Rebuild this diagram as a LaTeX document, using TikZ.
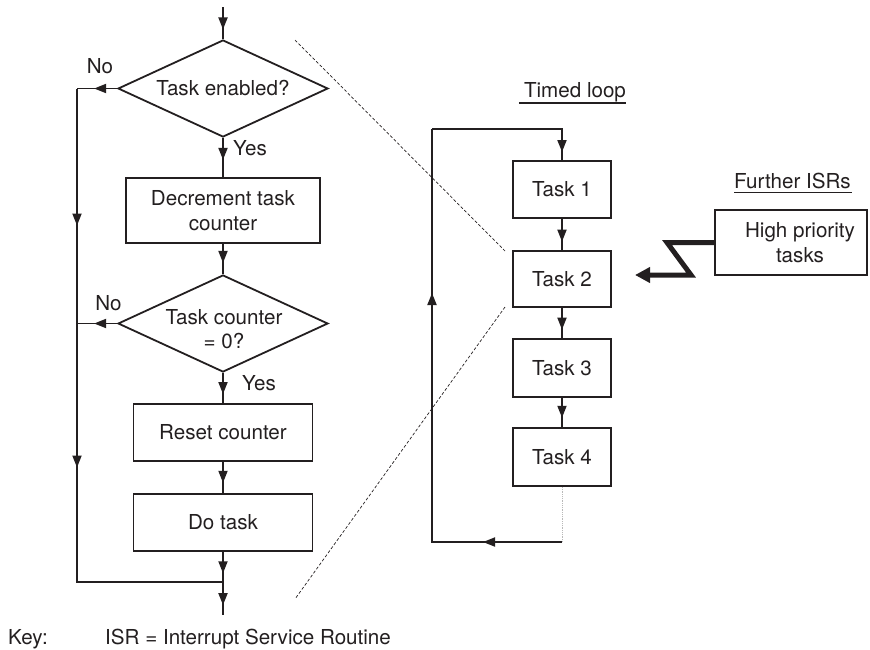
\documentclass[tikz,border=0pt]{standalone}
\usepackage{fontspec}
\setmainfont{TeX Gyre Heros}
\usetikzlibrary{shapes.geometric,arrows.meta,decorations.markings,calc}
\definecolor{ink}{HTML}{231F20}
\begin{document}
\begin{tikzpicture}[x=1pt,y=-1pt,
  every node/.style={font=\fontsize{20.6}{24.5}\selectfont, text=ink},
  box/.style={draw=ink, line width=1.8pt, rectangle, inner sep=0pt, align=center},
  dia/.style={draw=ink, line width=1.8pt, diamond, inner sep=0pt, aspect=2.16, minimum width=210pt, minimum height=97pt},
  ln/.style={draw=ink, line width=1.8pt},
  lbl/.style={inner sep=0pt, anchor=base},
  zoomline/.style={draw=ink, line width=0.7pt, dash pattern=on 3pt off 2pt},
  marr/.style={postaction={decorate}, decoration={markings, mark=at position #1 with {\arrow{Triangle[length=12pt,width=9pt]}}}},
  marrs/.style 2 args={postaction={decorate}, decoration={markings,
      mark=at position #1 with {\arrow{Triangle[length=12pt,width=9pt]}},
      mark=at position #2 with {\arrow{Triangle[length=12pt,width=9pt]}}}},
]
\useasboundingbox (0,0) rectangle (870,649);

% ---------- left flowchart ----------
\coordinate (top) at (223,7);
\node[dia] (d1) at (223,88.5) {Task enabled?};
\node[box, minimum width=194pt, minimum height=65pt] (b1) at (223,210.5) {Decrement task\\counter};
\node[dia] (d2) at (223,323.5) {};
\node[align=center, inner sep=0pt] (d2t) at (224,329) {Task counter\\= 0?};
\node[box, minimum width=179pt, minimum height=57pt] (rc) at (223,432.5) {Reset counter};
\node[box, minimum width=179pt, minimum height=57pt] (dt) at (223,522.5) {Do task};
\coordinate (merge) at (223,582);
\coordinate (bot) at (223,615);
\coordinate (L1) at (77,88.5);
\coordinate (L2) at (77,323.5);
\coordinate (L3) at (77,582);

\draw[ln, marr=0.7] (top) -- (d1.north);
\draw[ln, marr=0.56] (d1.south) -- (b1.north);
\draw[ln, marr=0.63] (b1.south) -- (d2.north);
\draw[ln, marr=0.7] (d2.south) -- (rc.north);
\draw[ln, marr=0.67] (rc.south) -- (dt.north);
\draw[ln, marr=0.71] (dt.south) -- (merge);
\draw[ln, marr=0.7] (merge) -- (bot);
\draw[ln, marr=23pt] (d1.west) -- (L1);
\draw[ln, marrs={137pt}{379pt}] (L1) -- (L3) -- (merge);
\draw[ln, marr=23pt] (d2.west) -- (L2);

\node[lbl] (no1) at (100,73) {No};
\node[lbl] (yes1) at (250,155) {Yes};
\node[lbl] (no2) at (108.5,310) {No};
\node[lbl] (yes2) at (259,390) {Yes};

% ---------- timed loop ----------
\node[lbl] (tl) at (575,97) {Timed loop};
\draw[ln] ($(tl.base west)+(-5,6)$) coordinate (tlu1) -- ($(tl.base east)+(0,6)$) coordinate (tlu2);
\node[box, minimum width=98pt, minimum height=57pt] (t1) at (562,189.5) {Task 1};
\node[box, minimum width=98pt, minimum height=56pt] (t2) at (562,279) {Task 2};
\node[box, minimum width=98pt, minimum height=58pt] (t3) at (562,368) {Task 3};
\node[box, minimum width=98pt, minimum height=58pt] (t4) at (562,457) {Task 4};
\coordinate (R1) at (562,542);
\coordinate (R2) at (432,542);
\coordinate (R3) at (432,129);
\coordinate (R4) at (562,129);

\draw[ln, marr=0.73] (t1.south) -- (t2.north);
\draw[ln, marr=0.72] (t2.south) -- (t3.north);
\draw[ln, marr=0.68] (t3.south) -- (t4.north);
\draw[draw=gray!55, line width=1pt, dash pattern=on 1pt off 0.8pt] (t4.south) -- (R1);
\draw[ln, marrs={79pt}{379pt}] (R1) -- (R2) -- (R3);
\draw[ln, marr=153pt] (R3) -- (R4) -- (t1.north);

% ---------- further ISRs ----------
\node[lbl] (fi) at (792.5,188) {Further ISRs};
\draw[ln] ($(fi.base west)+(0,4.5)$) coordinate (fiu1) -- ($(fi.base east)+(1,4.5)$) coordinate (fiu2);
\node[box, minimum width=152pt, minimum height=65pt] (hp) at (791,242.5) {};
\node[align=center, inner sep=0pt] (hpt) at (800,242.5) {High priority\\tasks};
\coordinate (z1) at (667,242.5);
\coordinate (z2) at (691,275);
\coordinate (z3) at (635,275);
\draw[draw=ink, line width=5pt, miter limit=10, -{Triangle[length=15pt,width=15pt]}] (hp.west) -- (z1) -- (z2) -- (z3);

% ---------- zoom lines ----------
\coordinate (za1) at (295,40);
\coordinate (za2) at (505,251);
\coordinate (zb1) at (505,307);
\coordinate (zb2) at (295,599);
\draw[zoomline] (za1) -- (za2);
\draw[zoomline] (zb1) -- (zb2);

% ---------- key ----------
\node[inner sep=0pt, anchor=base west] (key) at (8,644) {Key:};
\node[inner sep=0pt, anchor=base west] (keyt) at (105,644) {ISR = Interrupt Service Routine};
\end{tikzpicture}
\end{document}
